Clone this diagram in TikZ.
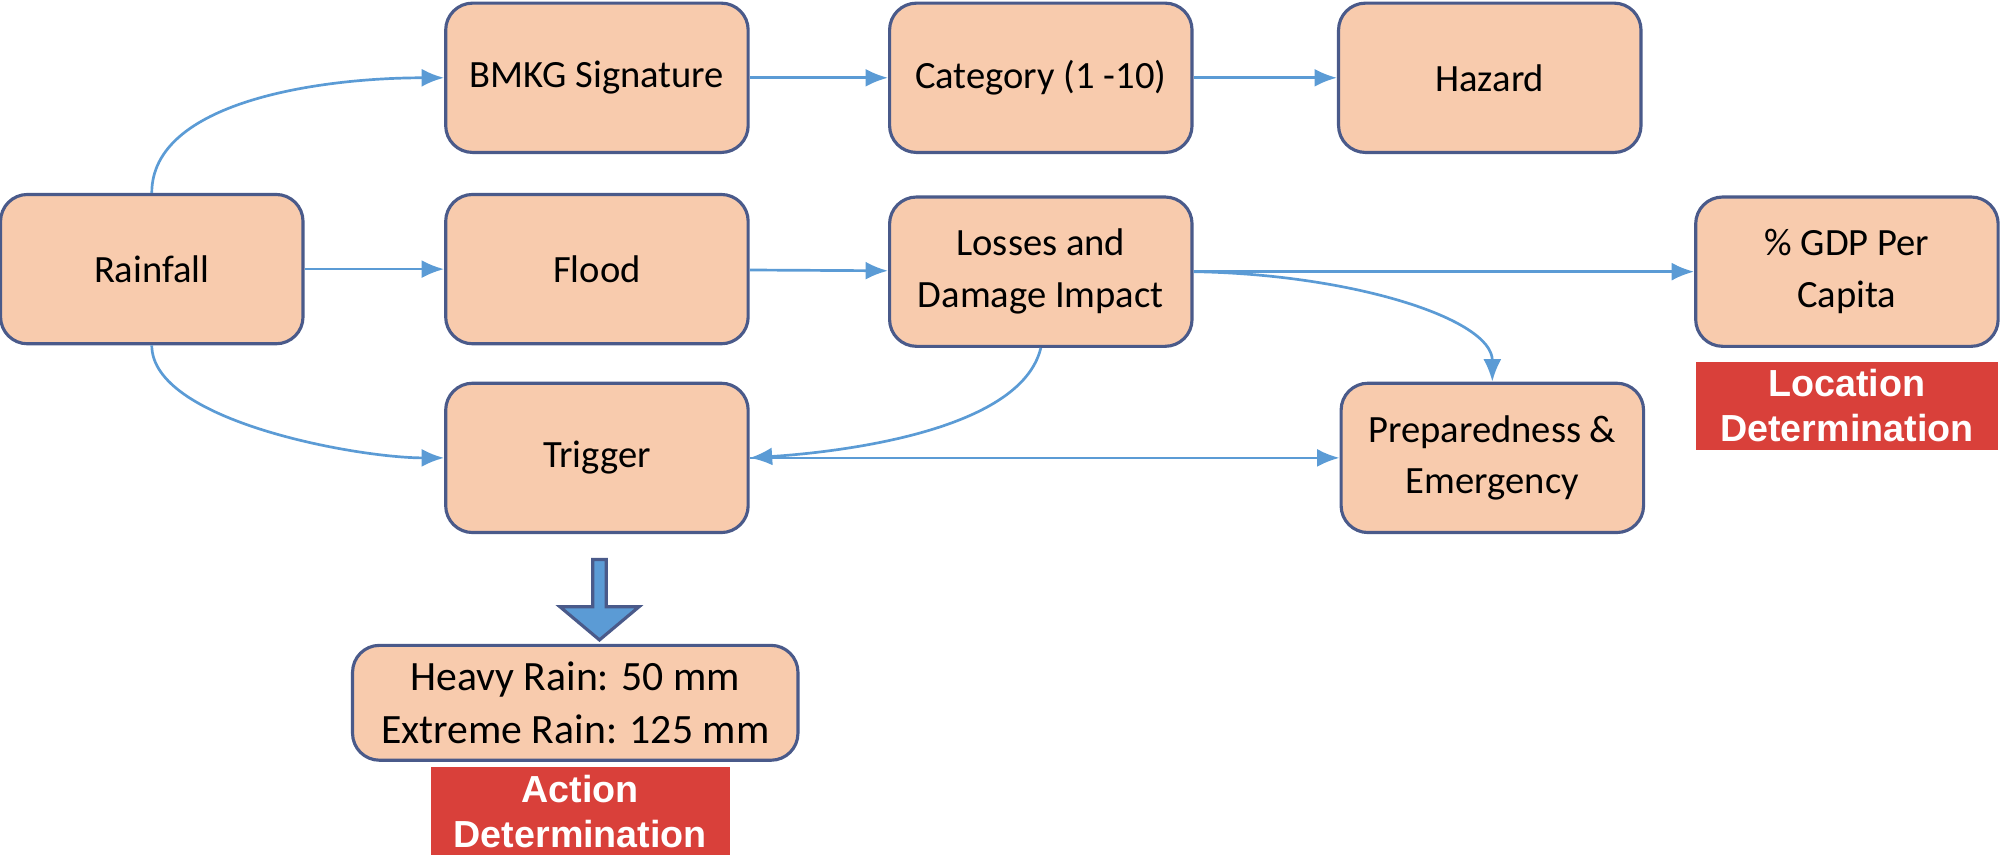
\documentclass[tikz,border=0pt]{standalone}
\usepackage{fontspec}
\setmainfont{Carlito}
\setsansfont{Liberation Sans}
\usetikzlibrary{arrows.meta,shapes.arrows}
\definecolor{boxfill}{HTML}{F8CBAD}
\definecolor{boxline}{HTML}{4A5A8A}
\definecolor{conn}{HTML}{5B9BD5}
\definecolor{redbox}{HTML}{D9403A}
\begin{document}
\begin{tikzpicture}[x=0.01cm,y=-0.01cm,
  box/.style={draw=boxline,line width=0.7pt,fill=boxfill,rounded corners=6pt,
    minimum width=2.37cm,minimum height=1.17cm,align=center,inner sep=2pt,
    font=\fontsize{8.6}{11.5}\selectfont},
  lab/.style={fill=redbox,text=white,align=center,minimum width=2.37cm,minimum height=0.69cm,
    inner sep=1pt,font=\fontsize{8.4}{10}\selectfont\bfseries\sffamily},
  conn/.style={draw=conn,line width=0.6pt,-{Latex[length=5pt,width=4pt]}}]
\useasboundingbox (0,0) rectangle (1568,673.5);
\node[box] (rain) at (119,211) {Rainfall};
\node[box] (bmkg) at (468,61) {BMKG Signature};
\node[box] (cat) at (816,61) {Category (1 -10)};
\node[box] (haz) at (1168,61) {Hazard};
\node[box] (flood) at (468,211) {Flood};
\node[box] (loss) at (816,213) {Losses and\\Damage Impact};
\node[box] (gdp) at (1448,213) {\% GDP Per\\Capita};
\node[box] (trig) at (468,359) {Trigger};
\node[box] (prep) at (1170,359) {Preparedness \&\\Emergency};
\node[box,minimum width=3.49cm,minimum height=0.9cm,font=\fontsize{9.3}{12}\selectfont] (heavy) at (451,551) {Heavy Rain: 50 mm\\Extreme Rain: 125 mm};
\node[lab,minimum width=2.34cm] (act) at (455,636) {Action\\Determination};
\node[lab] (loc) at (1448,318) {Location\\Determination};
\node[single arrow,shape border rotate=270,draw=boxline,fill=conn,line width=0.7pt,
  minimum width=0.62cm,minimum height=0.63cm,single arrow head extend=0.06cm,inner sep=0pt,
  single arrow tip angle=100] (down) at (470,468) {};
\draw[conn] (rain.north) .. controls (119,80) and (250,61) .. (bmkg.west);
\draw[conn] (rain.south) .. controls (119,330) and (280,359) .. (trig.west);
\draw[conn] (rain) -- (flood);
\draw[conn] (bmkg) -- (cat);
\draw[conn] (cat) -- (haz);
\draw[conn] (flood) -- (loss);
\draw[conn] (loss.east) -- (gdp.west);
\draw[conn] (loss.east) .. controls (1060,215) and (1170,250) .. (prep.north);
\draw[conn] (loss.south) .. controls (800,340) and (650,355) .. (trig.east);
\draw[conn] (trig.east) -- (prep.west);
\end{tikzpicture}
\end{document}
